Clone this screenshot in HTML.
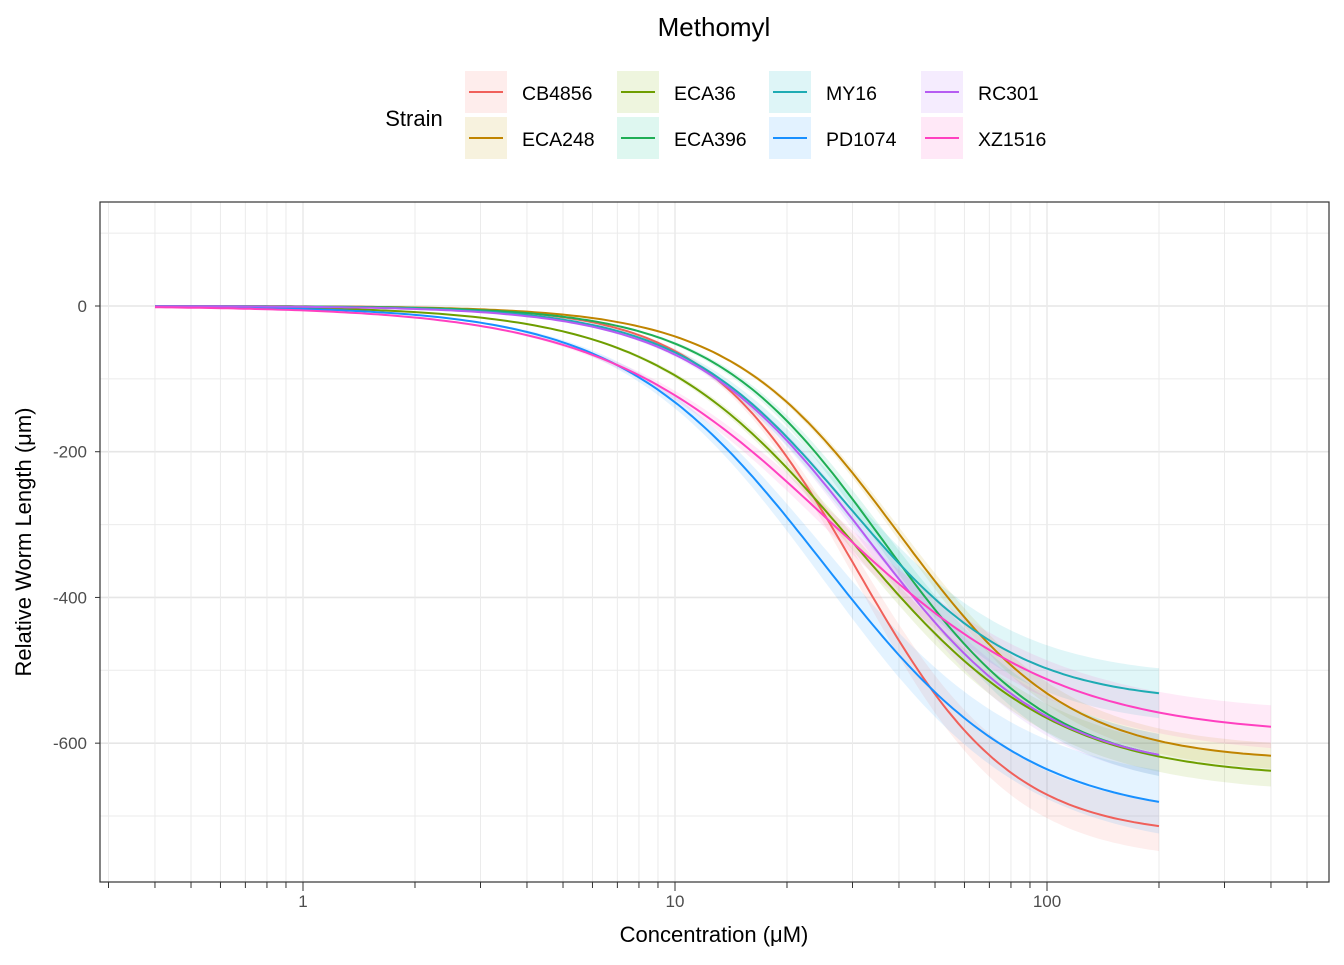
<!DOCTYPE html>
<html><head><meta charset="utf-8"><style>
body{margin:0;background:#fff;font-family:"Liberation Sans",Arial,sans-serif}
svg text{font-family:"Liberation Sans",Arial,sans-serif}
</style></head><body>
<svg id="chart" width="1344" height="960" xmlns="http://www.w3.org/2000/svg">
<text x="714" y="36" font-size="26" text-anchor="middle">Methomyl</text>
<g id="legend"><text x="414" y="126" font-size="22" text-anchor="middle">Strain</text></g>
<g id="grid"></g><g id="ribbons"></g><g id="lines"></g><g id="axes"></g>
<text x="714" y="942" font-size="22" text-anchor="middle">Concentration (μM)</text>
<text transform="translate(31,542) rotate(-90)" font-size="22" text-anchor="middle">Relative Worm Length (μm)</text>
</svg>
<script>
const strains=["CB4856","ECA248","ECA36","ECA396","MY16","PD1074","RC301","XZ1516"];
const colors=["#F8766D","#C49A00","#7CAE00","#00C08B","#00B4C4","#1E9BFF","#B56BF4","#FF4FC4"];
const lineColors=["#F0605A","#C08400","#6E9E00","#1FAE55","#1EABB3","#1890FF","#B65CF2","#FF40C0"];
const ec50=[31,40,30,36,29,25,33,26];
const bottom=[-728,-625,-648,-640,-545,-705,-640,-590];
const slope=[2.1,1.9,1.6,1.9,1.9,1.6,1.8,1.4];
const maxConc=[200,400,400,200,200,200,200,400];
const ciHalf=[35,18,22,30,35,45,30,30];
const yTicks=[0,-200,-400,-600];
const xTicks=[1,10,100];

const L=100,R=1329,T=202,B=882;
const X=c=>303+372*Math.log10(c);
const Y=v=>306-v*0.7286;
const NS="http://www.w3.org/2000/svg";
function mk(t,a,p){const e=document.createElementNS(NS,t);for(const k in a)e.setAttribute(k,a[k]);p.appendChild(e);return e;}
const svg=document.getElementById('chart');
const grid=document.getElementById('grid');
mk('rect',{x:L,y:T,width:R-L,height:B-T,fill:'#fff'},grid);
for(let v=100;v>=-700;v-=200){const g=mk('line',{x1:L,x2:R,y1:Y(v),y2:Y(v),stroke:'#ebebeb','stroke-width':1},grid);

}
for(let v=0;v>=-600;v-=200){const g=mk('line',{x1:L,x2:R,y1:Y(v),y2:Y(v),stroke:'#e6e6e6','stroke-width':1.6},grid);

}
const axes=document.getElementById('axes');
for(let d=-1;d<=2;d++){for(let m=1;m<=9;m++){const c=m*Math.pow(10,d);const x=X(c);if(x<L||x>R)continue;
const maj=(m===1);
const g=mk('line',{x1:x,x2:x,y1:T,y2:B,stroke:'#ebebeb','stroke-width':maj?1.6:1},grid);


const t=mk('line',{x1:x,x2:x,y1:B,y2:B+(maj?9:6),stroke:'#333','stroke-width':1},axes);

}}
xTicks.forEach(c=>{const t=mk('text',{x:X(c),y:B+25,'font-size':17,fill:'#4d4d4d','text-anchor':'middle'},axes);t.textContent=c;

});
yTicks.forEach(v=>{const t=mk('text',{x:87,y:Y(v)+6,'font-size':17,fill:'#4d4d4d','text-anchor':'end'},axes);t.textContent=v;


const k=mk('line',{x1:L-5,x2:L,y1:Y(v),y2:Y(v),stroke:'#333'},axes);

});
const fr=mk('rect',{x:L,y:T,width:R-L,height:B-T,fill:'none',stroke:'#333','stroke-width':1.2},axes);



const rib=document.getElementById('ribbons'),lines=document.getElementById('lines');
strains.forEach((s,i)=>{
  const pts=[];const n=200;const a=Math.log10(0.4),b=Math.log10(maxConc[i]);
  for(let j=0;j<=n;j++){const c=Math.pow(10,a+(b-a)*j/n);const v=bottom[i]/(1+Math.pow(ec50[i]/c,slope[i]));pts.push([c,v]);}
  const up=pts.map(p=>[X(p[0]),Y(p[1]+ciHalf[i]*p[1]/bottom[i])]);
  const lo=pts.map(p=>[X(p[0]),Y(p[1]-ciHalf[i]*p[1]/bottom[i])]).reverse();
  const rp=mk('path',{d:'M'+up.concat(lo).map(p=>p[0].toFixed(1)+','+p[1].toFixed(1)).join('L')+'Z',fill:colors[i],'fill-opacity':0.12},rib);
  
  
  const lp=mk('path',{d:'M'+pts.map(p=>X(p[0]).toFixed(1)+','+Y(p[1]).toFixed(1)).join('L'),fill:'none',stroke:lineColors[i],'stroke-width':2},lines);
  
  
  const col=Math.floor(i/2),row=i%2;const lx=465+col*152,ly=71+row*46;
  const lg=document.getElementById('legend');
  const g=mk('g',{},lg);
  
  
  mk('rect',{x:lx,y:ly,width:42,height:42,fill:colors[i],'fill-opacity':0.13},g);
  mk('line',{x1:lx+4,x2:lx+38,y1:ly+21,y2:ly+21,stroke:lineColors[i],'stroke-width':2},g);
  const t=mk('text',{x:lx+57,y:ly+29,'font-size':19.5},g);t.textContent=s;
});
</script>
</body></html>
